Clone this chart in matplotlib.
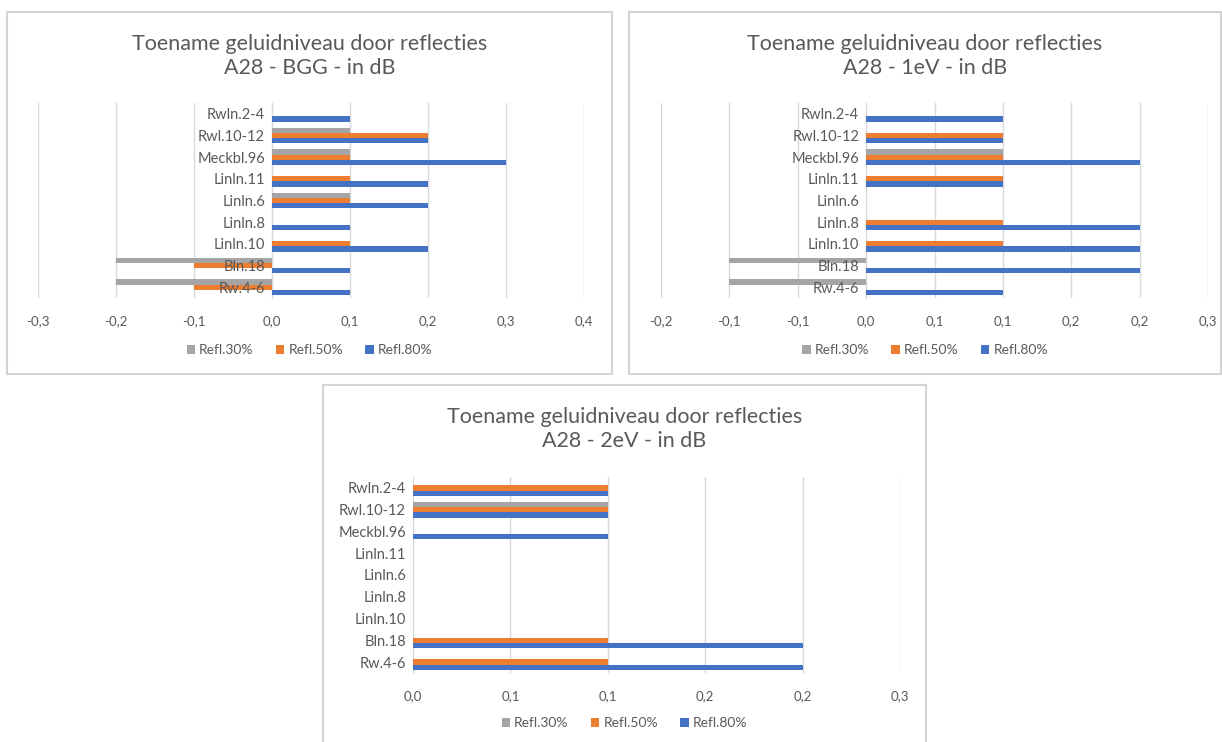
from decimal import Decimal, ROUND_HALF_UP
import matplotlib
matplotlib.use("Agg")
import matplotlib.pyplot as plt
from matplotlib.patches import Rectangle
from matplotlib.ticker import FuncFormatter

plt.rcParams["font.family"] = ["Lato", "DejaVu Sans"]

# categories from bottom to top (Excel order)
categories = ["Rw.4-6", "Bln.18", "Linln.10", "Linln.8", "Linln.6",
              "Linln.11", "Meckbl.96", "Rwl.10-12", "Rwln.2-4"]
series_names = ["Refl.30%", "Refl.50%", "Refl.80%"]

# A28 - BGG
bgg_30 = [-0.2, -0.2, 0.0, 0.0, 0.1, 0.0, 0.1, 0.1, 0.0]
bgg_50 = [-0.1, -0.1, 0.1, 0.0, 0.1, 0.1, 0.1, 0.2, 0.0]
bgg_80 = [0.1, 0.1, 0.2, 0.1, 0.2, 0.2, 0.3, 0.2, 0.1]

# A28 - 1eV
ev1_30 = [-0.1, -0.1, 0.0, 0.0, 0.0, 0.0, 0.1, 0.0, 0.0]
ev1_50 = [0.0, 0.0, 0.1, 0.1, 0.0, 0.1, 0.1, 0.1, 0.0]
ev1_80 = [0.1, 0.2, 0.2, 0.2, 0.0, 0.1, 0.2, 0.1, 0.1]

# A28 - 2eV
ev2_30 = [0.0, 0.0, 0.0, 0.0, 0.0, 0.0, 0.0, 0.1, 0.0]
ev2_50 = [0.1, 0.1, 0.0, 0.0, 0.0, 0.0, 0.0, 0.1, 0.1]
ev2_80 = [0.2, 0.2, 0.0, 0.0, 0.0, 0.0, 0.1, 0.1, 0.1]

colors = ["#a5a5a5", "#ed7d31", "#4472c4"]
text_col = "#595959"
grid_col = "#d9d9d9"

W, H = 1222, 742
fig = plt.figure(figsize=(W / 100, H / 100), dpi=100)


def fx(px):
    return px / W


def fy(py):
    return 1 - py / H


def excel_fmt(v, pos):
    # Excel rounds half away from zero, with a decimal comma
    d = Decimal(str(round(float(v), 6))).quantize(Decimal("0.1"), rounding=ROUND_HALF_UP)
    if d == 0:
        d = Decimal("0.0")
    return str(d).replace(".", ",")


def panel(box, plot, title2, vals, xlim, step, title_y, legend_y):
    # chart border
    bx0, by0, bx1, by1 = box
    fig.patches.append(Rectangle((fx(bx0), fy(by1)), fx(bx1 - bx0), (by1 - by0) / H,
                                 transform=fig.transFigure, facecolor="white",
                                 edgecolor="#d4d4d4", linewidth=1.5, zorder=-5))
    x0, y0, x1, y1 = plot
    ax = fig.add_axes([fx(x0), fy(y1), fx(x1 - x0), (y1 - y0) / H])
    ax.set_facecolor("none")
    h = 0.24
    pos = list(range(len(categories)))
    for i, (name, v) in enumerate(zip(series_names, vals)):
        off = (i - 1) * -h
        ax.barh([p + off for p in pos], v, height=h, color=colors[i], label=name, zorder=2)
    ax.set_xlim(*xlim)
    ax.set_ylim(-0.5, len(categories) - 0.5)
    n = int(round((xlim[1] - xlim[0]) / step))
    ax.set_xticks([xlim[0] + k * step for k in range(n + 1)])
    ax.xaxis.set_major_formatter(FuncFormatter(excel_fmt))
    ax.set_yticks(pos)
    ax.set_yticklabels(categories)
    ax.spines["left"].set_position(("data", 0))
    for s in ["top", "right", "bottom"]:
        ax.spines[s].set_visible(False)
    ax.spines["left"].set_color(grid_col)
    ax.spines["left"].set_zorder(1)
    ax.tick_params(axis="both", length=0, colors=text_col, labelsize=9.5)
    ax.tick_params(axis="y", labelsize=10.5, pad=5)
    ax.tick_params(axis="x", pad=12)
    ax.grid(axis="x", color=grid_col, linewidth=1)
    ax.xaxis.set_zorder(0.5)
    ax.yaxis.set_zorder(4)  # category labels drawn over the bars, like Excel
    cx = (bx0 + bx1) / 2
    fig.text(fx(cx), fy(title_y), "Toename geluidniveau door reflecties\n" + title2,
             ha="center", va="center", fontsize=15.5, color=text_col, linespacing=1.3)
    handles, labels = ax.get_legend_handles_labels()
    fig.legend(handles, labels, loc="center", bbox_to_anchor=(fx(cx), fy(legend_y)),
               ncol=3, frameon=False, fontsize=10, labelcolor=text_col,
               handlelength=0.6, handleheight=0.6, handletextpad=0.3, columnspacing=1.6)
    return ax


panel((7, 12, 612, 374), (38, 103, 584, 298), "A28 - BGG - in dB",
      [bgg_30, bgg_50, bgg_80], (-0.3, 0.4), 0.1, 56, 350)
panel((629, 12, 1221, 374), (661, 103, 1208, 298), "A28 - 1eV - in dB",
      [ev1_30, ev1_50, ev1_80], (-0.15, 0.25), 0.05, 56, 350)
panel((323, 385, 926, 745), (413, 477, 900, 673), "A28 - 2eV - in dB",
      [ev2_30, ev2_50, ev2_80], (0.0, 0.25), 0.05, 429, 723)

fig.savefig("out.png", dpi=100, facecolor="white")
